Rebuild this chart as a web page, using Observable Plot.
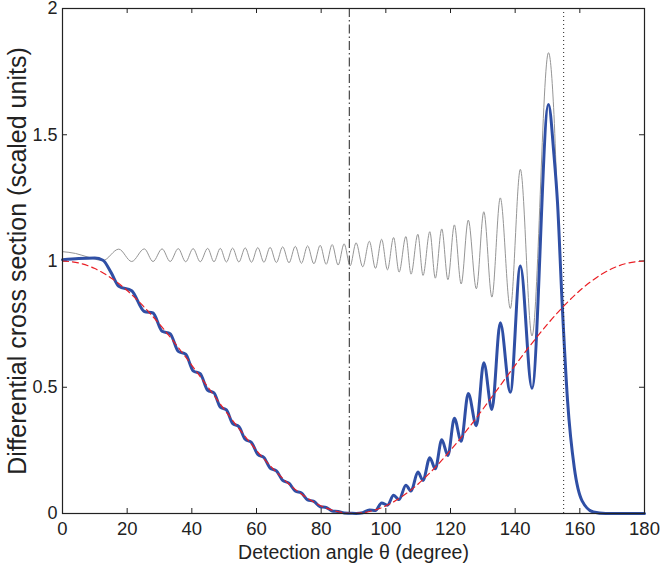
<!DOCTYPE html>
<html>
<head>
<meta charset="utf-8">
<script src="https://cdn.jsdelivr.net/npm/d3@7"></script>
<script src="https://cdn.jsdelivr.net/npm/@observablehq/plot@0.6"></script>
<style>
  html, body { margin: 0; padding: 0; background: #fff; }
  #chart { width: 661px; height: 569px; }
</style>
</head>
<body>
<div id="chart"></div>
<script>
// ---- data ----
const xTicks = [0, 20, 40, 60, 80, 100, 120, 140, 160, 180];
const yTicks = [0, 0.5, 1, 1.5, 2];
const yTickLabels = ["0", "0.5", "1", "1.5", "2"];
const xLabel = "Detection angle θ (degree)";
const yLabel = "Differential cross section (scaled units)";

// thin grey curve (turning points of the oscillation)
const grayAngle = [0,4,8,12.5,
  17.4,21.4,25.3,28.0,30.8,33.3,35.8,38.1,40.4,42.6,
  44.9,46.85,48.8,50.7,52.6,54.55,56.5,58.45,60.4,62.3,
  64.2,66.15,68.1,70.05,72.0,73.9,75.8,77.75,79.7,81.55,
  83.4,85.25,87.1,88.95,90.8,92.85,94.9,96.8,98.7,100.5,
  102.4,104.1,106.2,107.8,109.9,111.5,113.6,115.3,117.3,119.2,
  121.2,123.3,125.5,128.0,130.3,132.8,135.4,138.5,141.6,145.2,
  150.3,152.0,153.0,154.5,156.2,158.3,160.7,164.2,168,180];
const grayValue = [1.037,1.030,1.015,1.002,
  1.047,0.998,1.048,0.998,1.048,0.998,1.049,0.997,1.049,0.997,
  1.050,0.997,1.050,0.996,1.051,0.996,1.052,0.995,1.053,0.995,
  1.054,0.994,1.056,0.993,1.058,0.991,1.060,0.989,1.062,0.987,
  1.065,0.984,1.068,0.981,1.072,0.977,1.078,0.971,1.086,0.965,
  1.093,0.956,1.097,0.948,1.106,0.943,1.116,0.932,1.127,0.926,
  1.143,0.909,1.162,0.890,1.195,0.857,1.250,0.812,1.363,0.703,
  1.825,1.58,1.25,0.85,0.447,0.18,0.05,0.006,0,0];

// thick blue curve
const blueAngle = [0,5,10,12.5,15.0,
  17.4,21.4,25.3,28.0,30.8,33.3,35.8,38.1,40.4,42.6,
  44.9,46.85,48.8,50.7,52.6,54.55,56.5,58.45,60.4,62.3,
  64.2,66.15,68.1,70.05,72.0,73.9,75.8,77.75,79.7,81.55,
  83.4,85.25,87.1,88.95,90.8,92.85,94.9,96.8,98.7,100.5,
  102.4,104.1,106.2,107.8,109.9,111.5,113.6,115.3,117.3,119.2,
  121.2,123.3,125.5,128.0,130.3,132.8,135.4,138.5,141.6,145.2,
  150.3,152.0,153.1,154.5,156.2,158.3,160.7,164.2,168,180];
const blueValue = [1.005,1.010,1.012,1.003,0.955,
  0.900,0.882,0.800,0.794,0.722,0.712,0.642,0.631,0.565,0.554,
  0.488,0.478,0.421,0.410,0.357,0.344,0.294,0.281,0.234,0.222,
  0.180,0.169,0.131,0.120,0.089,0.081,0.054,0.048,0.027,0.024,
  0.010,0.008,0.002,0.001,0.000,0.003,0.014,0.012,0.042,0.033,
  0.072,0.055,0.112,0.089,0.164,0.131,0.221,0.177,0.292,0.230,
  0.377,0.286,0.475,0.348,0.597,0.412,0.755,0.480,0.980,0.496,
  1.620,1.42,1.23,0.84,0.447,0.18,0.05,0.006,0,0];

// red dashed reference curve
const redAngle = [0,5,10,15,20,25,30,35,40,45,50,55,60,65,70,75,80,85,90,
  95,100,105,110,115,120,125,130,135,140,145,150,155,160,165,170,175,180];
const redValue = [1,0.992,0.970,0.933,0.883,0.821,0.750,0.671,0.587,0.500,0.413,0.329,0.250,0.179,0.117,0.067,0.030,0.008,0,
  0.008,0.030,0.067,0.117,0.179,0.250,0.329,0.413,0.500,0.587,0.671,0.750,0.821,0.883,0.933,0.970,0.992,1];

// vertical reference lines
const dashDotAngle = [88.7];
const dottedAngle = [155];

// ---- build tables ----
const gray = grayAngle.map((a, i) => ({a, v: grayValue[i]}));
const blue = blueAngle.map((a, i) => ({a, v: blueValue[i]}));
const red = redAngle.map((a, i) => ({a, v: redValue[i]}));

const W = 661, H = 569;
const mL = 62, mR = 17, mT = 8, mB = 56;
const pw = W - mL - mR, ph = H - mT - mB;
const ink = "#222";
const font = "'Liberation Sans', Arial, Helvetica, sans-serif";

const chart = Plot.plot({
  width: W, height: H,
  marginLeft: mL, marginRight: mR, marginTop: mT, marginBottom: mB,
  style: {fontFamily: font, fontSize: "18px", color: ink, background: "#fff", overflow: "visible"},
  x: {domain: [0, 180]},
  y: {domain: [0, 2]},
  marks: [
    Plot.axisX({ticks: xTicks, tickSize: 0, tickPadding: 8, tickFormat: d => String(d), label: null, fontSize: 18.5}),
    Plot.axisY({ticks: yTicks, tickSize: 0, tickPadding: 5, tickFormat: (d, i) => yTickLabels[i], label: null, fontSize: 18}),
    Plot.text([xLabel], {text: d => d, frameAnchor: "bottom", dy: 39, lineAnchor: "middle", textAnchor: "middle", fontSize: 19.5, fill: ink}),
    Plot.text([yLabel], {text: d => d, frameAnchor: "left", dx: -45, rotate: -90, lineAnchor: "middle", textAnchor: "middle", fontSize: 25, fill: ink}),
    // inward ticks on all four sides
    Plot.ruleX(xTicks, {x: d => d, insetTop: ph - 5, stroke: ink}),
    Plot.ruleX(xTicks, {x: d => d, insetBottom: ph - 5, stroke: ink}),
    Plot.ruleY(yTicks, {y: d => d, insetRight: pw - 5, stroke: ink}),
    Plot.ruleY(yTicks, {y: d => d, insetLeft: pw - 5, stroke: ink}),
    Plot.line(gray, {x: "a", y: "v", stroke: "#959595", strokeWidth: 1, curve: "monotone-x"}),
    Plot.line(blue, {x: "a", y: "v", stroke: "#2f4fa5", strokeWidth: 3, curve: "monotone-x"}),
    Plot.line(red, {x: "a", y: "v", stroke: "#ea1f25", strokeWidth: 1.2, strokeDasharray: "6,4", curve: "natural"}),
    Plot.ruleX(dashDotAngle, {x: d => d, stroke: ink, strokeWidth: 1, strokeDasharray: "9,3,1.5,3"}),
    Plot.ruleX(dottedAngle, {x: d => d, stroke: ink, strokeWidth: 1, strokeDasharray: "1,3"}),
    Plot.frame({stroke: ink, strokeWidth: 1.2})
  ]
});
document.getElementById("chart").appendChild(chart);
</script>
</body>
</html>
